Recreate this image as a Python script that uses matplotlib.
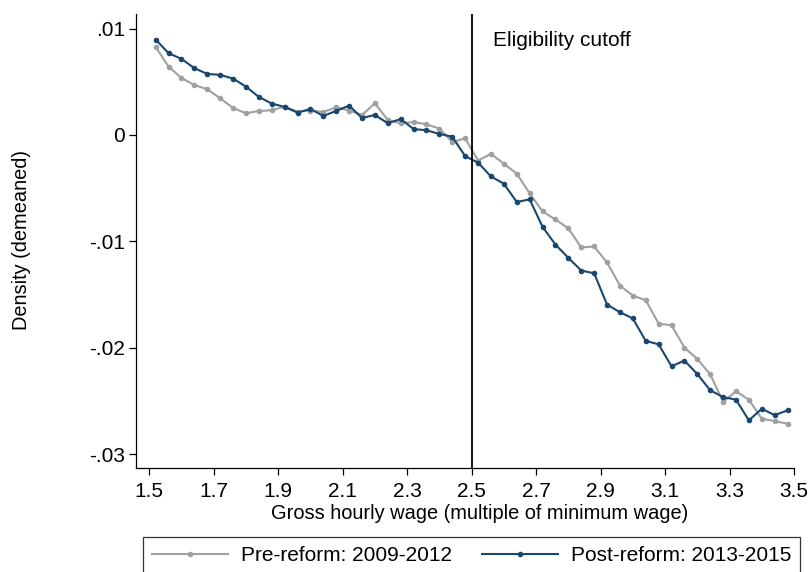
import matplotlib
matplotlib.use("Agg")
import matplotlib.pyplot as plt

plt.rcParams['font.family'] = ['Liberation Sans', 'DejaVu Sans']

# bin centres (multiple of minimum wage)
wage = [1.52, 1.56, 1.60, 1.64, 1.68, 1.72, 1.76, 1.80, 1.84, 1.88,
        1.92, 1.96, 2.00, 2.04, 2.08, 2.12, 2.16, 2.20, 2.24, 2.28,
        2.32, 2.36, 2.40, 2.44, 2.48, 2.52, 2.56, 2.60, 2.64, 2.68,
        2.72, 2.76, 2.80, 2.84, 2.88, 2.92, 2.96, 3.00, 3.04, 3.08,
        3.12, 3.16, 3.20, 3.24, 3.28, 3.32, 3.36, 3.40, 3.44, 3.48]

# Pre-reform: 2009-2012
pre = [0.00828, 0.00643, 0.00536, 0.00470, 0.00430, 0.00345, 0.00254, 0.00204, 0.00226, 0.00232,
       0.00266, 0.00220, 0.00229, 0.00216, 0.00260, 0.00229, 0.00188, 0.00298, 0.00141, 0.00110,
       0.00122, 0.00100, 0.00060, -0.00066, -0.00031, -0.00240, -0.00177, -0.00270, -0.00364, -0.00549,
       -0.00718, -0.00794, -0.00878, -0.01057, -0.01048, -0.01198, -0.01415, -0.01509, -0.01553, -0.01773,
       -0.01788, -0.01998, -0.02105, -0.02250, -0.02510, -0.02409, -0.02488, -0.02667, -0.02689, -0.02714]

# Post-reform: 2013-2015
post = [0.00897, 0.00769, 0.00715, 0.00628, 0.00574, 0.00565, 0.00530, 0.00455, 0.00358, 0.00295,
        0.00264, 0.00210, 0.00245, 0.00179, 0.00226, 0.00276, 0.00160, 0.00188, 0.00110, 0.00150,
        0.00056, 0.00044, 0.00010, -0.00016, -0.00199, -0.00260, -0.00390, -0.00458, -0.00630, -0.00605,
        -0.00863, -0.01030, -0.01155, -0.01274, -0.01300, -0.01594, -0.01666, -0.01724, -0.01936, -0.01967,
        -0.02174, -0.02120, -0.02247, -0.02400, -0.02463, -0.02488, -0.02682, -0.02573, -0.02633, -0.02588]

xticks = [1.5, 1.7, 1.9, 2.1, 2.3, 2.5, 2.7, 2.9, 3.1, 3.3, 3.5]
yticks = [0.01, 0.0, -0.01, -0.02, -0.03]
ytick_labels = ['.01', '0', '-.01', '-.02', '-.03']

cutoff = 2.5
fs = 15

fig = plt.figure(figsize=(8.09, 5.72), dpi=100)
ax = fig.add_axes([0.1681, 0.1818, 0.8134, 0.7937])

ax.plot(wage, pre, color='#a0a0a0', lw=1.5, marker='o', ms=3,
        label='Pre-reform: 2009-2012')
ax.plot(wage, post, color='#1a476f', lw=1.5, marker='o', ms=3,
        label='Post-reform: 2013-2015')

ax.axvline(cutoff, color='black', lw=1.3)
ax.text(2.565, 0.0089, 'Eligibility cutoff', fontsize=fs, va='center', ha='left')

ax.set_xlim(1.459, 3.5)
ax.set_ylim(-0.0313, 0.01137)
ax.set_xticks(xticks)
ax.set_xticklabels([f'{t:.1f}' for t in xticks])
ax.set_yticks(yticks)
ax.set_yticklabels(ytick_labels)

for s in ['top', 'right']:
    ax.spines[s].set_visible(False)
for s in ['left', 'bottom']:
    ax.spines[s].set_linewidth(0.9)
ax.tick_params(labelsize=fs, length=5, width=0.9)
ax.tick_params(axis='x', pad=5)
ax.tick_params(axis='y', pad=3)

ax.set_xlabel('Gross hourly wage (multiple of minimum wage)', fontsize=14.4)
ax.xaxis.set_label_coords((480 - 136) / 658, -0.08)
fig.text(22 / 809, 1 - 240 / 572, 'Density (demeaned)', rotation=90,
         fontsize=14.4, ha='center', va='center')

leg = fig.legend(loc='upper left', bbox_to_anchor=(143 / 809, 1 - 537 / 572),
                 ncol=2, fontsize=fs, frameon=True, fancybox=False,
                 edgecolor='black', handlelength=3.65, handletextpad=0.62,
                 columnspacing=1.44, borderpad=0.43, borderaxespad=0)
leg.get_frame().set_linewidth(0.9)

fig.savefig('out.png', dpi=100)
